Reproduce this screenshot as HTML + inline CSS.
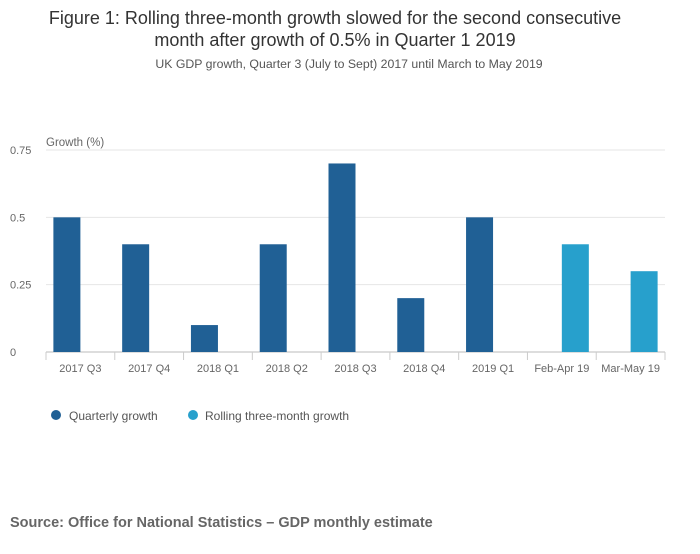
<!DOCTYPE html>
<html><head><meta charset="utf-8"><style>
body{margin:0;background:#fff;font-family:"Liberation Sans",sans-serif;}
svg text{font-family:"Liberation Sans",sans-serif;}
</style></head><body>
<svg id="chart" width="700" height="549" viewBox="0 0 700 549">
<text x="335" y="24" text-anchor="middle" font-size="18" fill="#333">Figure 1: Rolling three-month growth slowed for the second consecutive</text>
<text x="335" y="46" text-anchor="middle" font-size="18" fill="#333">month after growth of 0.5% in Quarter 1 2019</text>
<text x="349" y="68" text-anchor="middle" font-size="12.3" fill="#555">UK GDP growth, Quarter 3 (July to Sept) 2017 until March to May 2019</text>
<text x="46" y="146" font-size="11.5" fill="#666">Growth (%)</text>
<g id="grid"></g><g id="bars"></g><g id="xaxis"></g>
<circle cx="56" cy="415" r="5" fill="#206095"/>
<text x="69" y="420" font-size="12" fill="#555">Quarterly growth</text>
<circle cx="193" cy="415" r="5" fill="#27a0cc"/>
<text x="205" y="420" font-size="12" fill="#555">Rolling three-month growth</text>
<text x="10" y="527" font-size="14.5" font-weight="bold" fill="#666">Source: Office for National Statistics – GDP monthly estimate</text>
</svg>
<script>
const categories=["2017 Q3","2017 Q4","2018 Q1","2018 Q2","2018 Q3","2018 Q4","2019 Q1","Feb-Apr 19","Mar-May 19"];
const quarterly=[0.5,0.4,0.1,0.4,0.7,0.2,0.5,null,null];
const rolling=[null,null,null,null,null,null,null,0.4,0.3];
const yTicks=[0,0.25,0.5,0.75];
const yTickLabels=["0","0.25","0.5","0.75"];
const NS="http://www.w3.org/2000/svg";
const x0=46,x1=665,y0=352,yTop=150,bw=27;
const band=(x1-x0)/categories.length;
const ys=v=>y0-(v/0.75)*(y0-yTop);
const xc=i=>x0+band*(i+0.5);
function mk(t,a,p){const e=document.createElementNS(NS,t);for(const k in a)e.setAttribute(k,a[k]);p.appendChild(e);return e;}
const grid=document.getElementById('grid'),bars=document.getElementById('bars'),xa=document.getElementById('xaxis');
yTicks.forEach((v,i)=>{
 const l=mk('line',{x1:x0,x2:x1,y1:ys(v),y2:ys(v),stroke:i==0?'#bbb':'#e6e6e6'},grid);
 
 
 const t=mk('text',{x:10,y:ys(v)+4,'font-size':11,fill:'#666'},grid);t.textContent=yTickLabels[i];
 
 
});
categories.forEach((c,i)=>{
 if(quarterly[i]!=null){const r=mk('rect',{x:xc(i)-bw,y:ys(quarterly[i]),width:bw,height:y0-ys(quarterly[i]),fill:'#206095'},bars);
  
  }
 if(rolling[i]!=null){const r=mk('rect',{x:xc(i),y:ys(rolling[i]),width:bw,height:y0-ys(rolling[i]),fill:'#27a0cc'},bars);
  
  }
 const t=mk('text',{x:xc(i),y:372,'text-anchor':'middle','font-size':11,fill:'#666'},xa);t.textContent=c;
 
 
});
for(let i=0;i<=categories.length;i++){const l=mk('line',{x1:x0+band*i,x2:x0+band*i,y1:y0,y2:y0+8,stroke:'#ccc'},xa);
 
 }
</script>
</body></html>
